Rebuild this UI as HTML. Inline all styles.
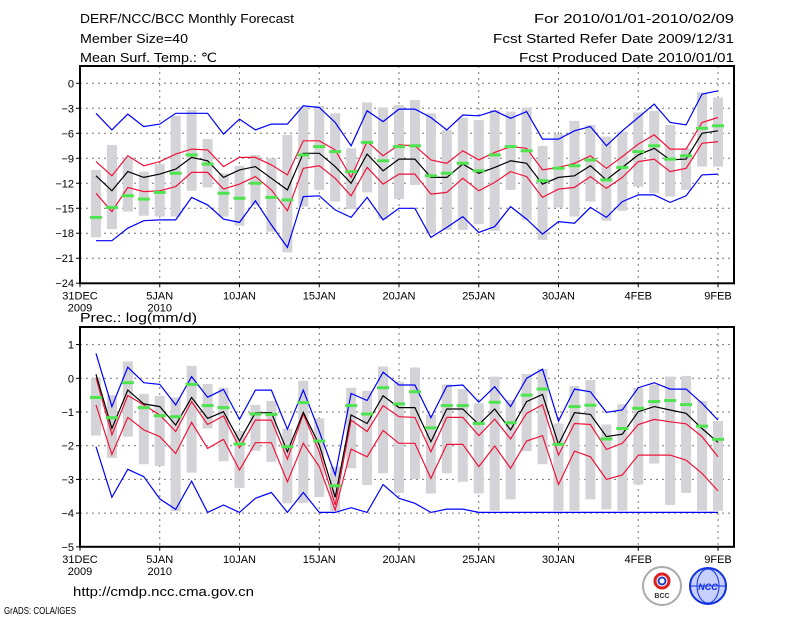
<!DOCTYPE html>
<html><head><meta charset="utf-8"><style>
html,body{margin:0;padding:0;background:#fff;}
svg{display:block;font-family:"Liberation Sans",sans-serif;}
</style></head><body>
<svg id="c" width="800" height="618" viewBox="0 0 800 618" xmlns="http://www.w3.org/2000/svg">
<g font-size="13" fill="#000">
<text x="80" y="23" textLength="214" lengthAdjust="spacingAndGlyphs">DERF/NCC/BCC Monthly Forecast</text>
<text x="80" y="43" textLength="108" lengthAdjust="spacingAndGlyphs">Member Size=40</text>
<text x="80" y="62" textLength="137" lengthAdjust="spacingAndGlyphs">Mean Surf. Temp.: ℃</text>
<text x="734" y="23" text-anchor="end" textLength="200" lengthAdjust="spacingAndGlyphs">For 2010/01/01-2010/02/09</text>
<text x="734" y="43" text-anchor="end" textLength="241" lengthAdjust="spacingAndGlyphs">Fcst Started Refer Date 2009/12/31</text>
<text x="734" y="62" text-anchor="end" textLength="215" lengthAdjust="spacingAndGlyphs">Fcst Produced Date 2010/01/01</text>
<text x="80" y="322" textLength="117" lengthAdjust="spacingAndGlyphs">Prec.: log(mm/d)</text>
<text x="73" y="596" textLength="181" lengthAdjust="spacingAndGlyphs">http://cmdp.ncc.cma.gov.cn</text>
<text x="4" y="614" font-size="10" textLength="72" lengthAdjust="spacingAndGlyphs">GrADS: COLA/IGES</text>
</g>
<g>
<circle cx="662" cy="586" r="19" fill="#fff" stroke="#aaa" stroke-width="2"/>
<circle cx="662" cy="581" r="7" fill="none" stroke="#e02020" stroke-width="3"/>
<circle cx="662" cy="581" r="3.5" fill="none" stroke="#2040c0" stroke-width="2"/>
<text x="662" y="598" font-size="7" font-weight="bold" text-anchor="middle" fill="#333">BCC</text>
</g>
<g>
<circle cx="708" cy="586" r="18" fill="#c8d0ff" stroke="#1030e0" stroke-width="2"/>
<ellipse cx="708" cy="586" rx="11" ry="17" fill="none" stroke="#1030e0"/>
<line x1="690" y1="586" x2="726" y2="586" stroke="#1030e0"/>
<text x="708" y="590" font-size="9" font-style="italic" font-weight="bold" text-anchor="middle" fill="#1030e0">NCC</text>
</g>
<g id="top"></g>
<g id="bot"></g>
</svg>
<script>
const days=[1,2,3,4,5,6,7,8,9,10,11,12,13,14,15,16,17,18,19,20,21,22,23,24,25,26,27,28,29,30,31,32,33,34,35,36,37,38,39,40];
const xTickDays=[0,5,10,15,20,25,30,35,40];
const xTickLabels=["31DEC","5JAN","10JAN","15JAN","20JAN","25JAN","30JAN","4FEB","9FEB"];
const xTickYears=["2009","2010","","","","","","",""];
const tTicks=[0,-3,-6,-9,-12,-15,-18,-21,-24];
const pTicks=[1,0,-1,-2,-3,-4,-5];

const tBlueHi=[-3.6,-5.6,-3.7,-5.2,-4.9,-3.6,-3.6,-3.6,-6.1,-4.3,-5.6,-4.9,-4.9,-2.7,-2.9,-4.7,-7.5,-3.3,-4.6,-3.1,-3.1,-4.1,-5.6,-3.8,-3.9,-3.3,-4.2,-3.4,-6.7,-6.7,-5.7,-5.2,-7.5,-5.7,-4.1,-2.5,-4.7,-5,-1.3,-0.9];
const tRedHi=[-9.4,-11.1,-8.7,-9.9,-9.4,-8.5,-7.9,-8.0,-10,-8.9,-8.9,-9.8,-11,-6.9,-6.9,-8,-11.3,-7,-8.7,-7.4,-7.5,-9.2,-9.6,-8.1,-9.2,-8.3,-7.6,-7.8,-10.4,-10.1,-9.6,-8.7,-10.2,-8.8,-7.3,-6.2,-7.9,-7.9,-4.7,-4.1];
const tMean=[-11.1,-12.9,-10.6,-11.3,-10.9,-10.3,-8.9,-9.3,-11.3,-10.4,-10,-11.4,-12.8,-8.4,-8.4,-10,-12,-8.5,-10.5,-9.1,-9.1,-11.3,-11.3,-9.7,-10.8,-10.1,-9.3,-9.6,-12.1,-11.3,-11.1,-9.9,-11.6,-10.1,-8.6,-7.8,-9.2,-9.1,-6,-5.7];
const tRedLo=[-13.2,-15.4,-12.5,-13,-12.9,-12.4,-10.7,-10.7,-12.7,-12.1,-11.2,-12.8,-15.3,-10.2,-9.9,-11.4,-13.5,-10.1,-12.1,-10.9,-10.9,-13.3,-13.1,-11.4,-12.9,-11.9,-10.6,-11.2,-13.7,-12.7,-12.5,-11.2,-12.6,-11.3,-9.4,-9.1,-10.6,-10.2,-7.2,-7];
const tBlueLo=[-18.9,-18.9,-17.4,-16.5,-16.4,-16.4,-13.7,-14.6,-16.3,-16.7,-14.1,-17,-19.7,-13.6,-13.5,-15.2,-16.1,-13.7,-16.4,-15,-15,-18.5,-17.3,-16,-17.9,-17.2,-14.8,-16.3,-18.1,-16.6,-16.8,-14.9,-16.1,-14.2,-13.4,-13.4,-14.3,-13.5,-11,-10.9];
const tObs=[-16.1,-14.9,-13.5,-13.9,-13.1,-10.8,-8.6,-9.7,-13.2,-13.8,-12,-13.7,-14,-8.6,-7.6,-8.2,-10.6,-7.1,-9.3,-7.6,-7.5,-11.1,-10.8,-9.6,-10.5,-8.6,-7.6,-8.1,-11.7,-10.2,-9.9,-9.2,-11.6,-10.1,-8.2,-7.5,-9.1,-8.7,-5.4,-5.1];
const tBarHi=[-10.4,-7.4,-8.9,-10.6,-9.7,-3.9,-3.2,-6.7,-10.8,-9.9,-8.6,-9,-6.2,-2.8,-2.7,-3.6,-7.8,-2.3,-2.9,-2.6,-2,-3.6,-5.6,-4.1,-4.4,-3.2,-3.4,-2.9,-7.5,-6.1,-4.5,-5,-6.4,-5.8,-3.5,-3.3,-5,-7.8,-1.1,-1.7];
const tBarLo=[-18.5,-17.5,-15.4,-15.9,-16,-16,-12.9,-12.5,-16,-17.1,-14.6,-17.8,-20.3,-14.8,-12.8,-14.2,-15.1,-13.1,-16.3,-13.9,-12.2,-18.1,-17.6,-17.6,-16.9,-17.7,-12.8,-16.4,-18.8,-14.9,-16,-14.2,-16.5,-15.3,-12.4,-13.2,-13.6,-12.8,-10,-10];

const pBlueHi=[0.74,-0.84,0.33,-0.13,-0.18,-0.79,0.05,-0.56,-0.33,-1.22,-0.35,-0.35,-1.51,-0.35,-1.58,-2.87,-0.45,-0.66,0.18,-0.2,-0.2,-1.17,-0.23,-0.2,-0.71,-0.25,-0.84,0,0.27,-1.27,-0.32,-0.4,-1.01,-0.94,-0.28,-0.13,-0.32,-0.32,-0.74,-1.24];
const pRedHi=[0.02,-1.68,-0.51,-0.79,-1.09,-1.58,-0.69,-1.37,-1.12,-2.06,-1.24,-1.24,-2.4,-1.06,-2.18,-3.76,-1.24,-1.58,-0.81,-1.14,-1.16,-2.18,-1.16,-1.16,-1.7,-1.21,-1.8,-1.04,-0.79,-2.28,-1.34,-1.37,-2.11,-1.93,-1.37,-1.22,-1.29,-1.35,-1.73,-2.33];
const pMean=[0.12,-1.49,-0.35,-0.76,-0.84,-1.39,-0.57,-1.19,-0.99,-1.86,-1.02,-1.02,-2.18,-1.01,-1.98,-3.53,-1.09,-1.34,-0.52,-0.87,-0.87,-1.88,-0.91,-0.91,-1.37,-0.91,-1.53,-0.69,-0.48,-1.96,-1.02,-1.07,-1.73,-1.66,-0.99,-0.84,-0.94,-1.04,-1.49,-1.9];
const pRedLo=[-0.79,-2.26,-1.16,-1.53,-1.73,-2.23,-1.31,-2.08,-1.81,-2.72,-1.91,-1.91,-3.07,-1.93,-2.62,-3.91,-2.1,-2.33,-1.55,-1.93,-1.93,-2.97,-1.96,-1.96,-2.62,-2.01,-2.67,-1.86,-1.7,-3.15,-2.16,-2.33,-3,-2.87,-2.28,-2.28,-2.28,-2.43,-2.82,-3.34];
const pBlueLo=[-2.03,-3.53,-2.7,-2.92,-3.58,-3.89,-3.05,-3.98,-3.76,-3.98,-3.56,-3.39,-3.98,-3.39,-3.98,-3.98,-3.84,-3.98,-3.15,-3.56,-3.71,-3.98,-3.88,-3.88,-3.98,-3.98,-3.98,-3.98,-3.98,-3.98,-3.98,-3.98,-3.98,-3.98,-3.98,-3.98,-3.98,-3.98,-3.98,-3.98];
const pObs=[-0.57,-1.17,-0.13,-0.87,-1.11,-1.14,-0.18,-0.81,-0.87,-1.95,-1.06,-1.07,-2.03,-0.72,-1.86,-3.19,-0.81,-1.06,-0.28,-0.76,-0.4,-1.47,-0.81,-0.81,-1.34,-0.71,-1.32,-0.5,-0.32,-1.96,-0.84,-0.8,-1.8,-1.49,-0.89,-0.69,-0.66,-0.78,-1.42,-1.81];
const pBarHi=[0,-0.5,0.5,-0.46,-0.52,-0.57,0.37,-0.17,-0.28,-1.56,-0.79,-0.67,-1.49,-0.07,-1.19,-2.62,-0.28,-0.37,0.35,-0.1,0.32,-1.09,-0.18,-0.32,-0.74,0.05,-0.64,0.13,0.28,-1.34,-0.23,-0.05,-1.37,-0.77,-0.28,-0.18,0.05,0.07,-0.67,-1.27];
const pBarLo=[-1.7,-2.36,-1.73,-2.55,-2.6,-3.94,-2.8,-1.49,-2.46,-3.25,-2.15,-2.48,-3.71,-3.7,-3.52,-3.94,-2.67,-3.17,-2.82,-3.4,-2.99,-3.42,-2.82,-3.07,-3.42,-3.93,-3.59,-2.16,-2.55,-3.93,-3.93,-3.59,-3.89,-3.93,-3.15,-2.53,-3.76,-3.4,-3.93,-3.93];

const NS="http://www.w3.org/2000/svg";
const X0=80, X1=734, DX=15.95;
function xs(d){return X0+d*DX;}
function yT(v){return 83.3-8.33*v;}
function yP(v){return 378.3-33.7*v;}
function mk(tag,attrs,parent){const e=document.createElementNS(NS,tag);for(const k in attrs)e.setAttribute(k,attrs[k]);parent.appendChild(e);return e;}

function panel(g,ys,top,bottom,ticks,barHi,barLo,obs,blueHi,redHi,mean,redLo,blueLo,pfx){
  ticks.forEach(t=>{
    const y=ys(t);
    const gl=mk('line',{x1:X0,x2:X1,y1:y,y2:y,stroke:'#777','stroke-dasharray':'2,4','stroke-width':1},g);
    
    
    const tk=mk('line',{x1:X0-4,x2:X0,y1:y,y2:y,stroke:'#000'},g);
    
    
    const tx=mk('text',{x:X0-6,y:y+4,'font-size':11,'text-anchor':'end'},g);
    tx.textContent=String(t).replace('-','\u2212');
    
    
  });
  xTickDays.forEach((d,i)=>{
    if(d===0)return;
    const x=xs(d);
    const vl=mk('line',{x1:x,x2:x,y1:top,y2:bottom,stroke:'#777','stroke-dasharray':'2,4'},g);
    
    
  });
  xTickDays.forEach((d,i)=>{
    const x=xs(d);
    const tk=mk('line',{x1:x,x2:x,y1:bottom,y2:bottom+4,stroke:'#000'},g);
    
    
    const tx=mk('text',{x:x,y:bottom+16,'font-size':11,'text-anchor':'middle'},g);
    tx.textContent=xTickLabels[i];
    
    
    if(xTickYears[i]){
      const ty=mk('text',{x:x,y:bottom+28,'font-size':11,'text-anchor':'middle'},g);
      ty.textContent=xTickYears[i];
      
      
    }
  });
  days.forEach((d,i)=>{
    const y1=ys(barHi[i]),y2=ys(barLo[i]);
    const b=mk('rect',{x:xs(d)-5,y:y1,width:10,height:Math.max(1,y2-y1),fill:'#d4d4d8'},g);
    
    
  });
  function line(arr,col,name){
    const pts=days.map((d,i)=>xs(d).toFixed(1)+','+ys(arr[i]).toFixed(1)).join(' ');
    const p=mk('polyline',{points:pts,fill:'none',stroke:col,'stroke-width':1.2},g);
    
    
  }
  line(blueHi,'#0000ff',pfx+'-upper-extreme-line');
  line(blueLo,'#0000ff',pfx+'-lower-extreme-line');
  line(redHi,'#f0143c',pfx+'-upper-spread-line');
  line(redLo,'#f0143c',pfx+'-lower-spread-line');
  line(mean,'#000000',pfx+'-ensemble-mean-line');
  days.forEach((d,i)=>{
    const m=mk('rect',{x:xs(d)-6,y:ys(obs[i])-1.5,width:12,height:3,fill:'#4ee44e'},g);
    
    
  });
  const f=mk('rect',{x:X0,y:top,width:X1-X0,height:bottom-top,fill:'none',stroke:'#000','stroke-width':2},g);
  
  
}
panel(document.getElementById('top'),yT,66,283.3,tTicks,tBarHi,tBarLo,tObs,tBlueHi,tRedHi,tMean,tRedLo,tBlueLo,'temp');
panel(document.getElementById('bot'),yP,327,546.8,pTicks,pBarHi,pBarLo,pObs,pBlueHi,pRedHi,pMean,pRedLo,pBlueLo,'prec');
</script>
</body></html>
